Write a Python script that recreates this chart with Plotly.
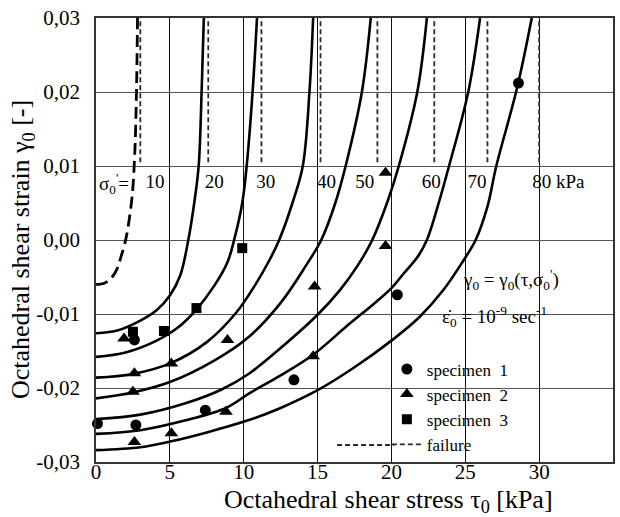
import plotly.graph_objects as go

# ---------------- data ----------------
x_tick_vals = [0, 5, 10, 15, 20, 25, 30, 35]
x_tick_text = ["0", "5", "10", "15", "20", "25", "30", "35"]
y_tick_vals = [-0.03, -0.02, -0.01, 0.0, 0.01, 0.02, 0.03]
y_tick_text = ["-0,03", "-0,02", "-0,01", "0,00", "0,01", "0,02", "0,03"]

# curve for sigma0' = 10 kPa (dashed)
tau_s10 = [0, 0.6, 1.1, 1.45, 1.7, 1.95, 2.15, 2.45, 2.63, 2.74, 2.81]
gam_s10 = [-0.0060, -0.0058, -0.0050, -0.0038, -0.0022, -0.0005, 0.0015, 0.0060, 0.0120, 0.0200, 0.0300]

tau_s20 = [0, 1.5, 3.0, 4.1, 5.0, 5.7, 6.25, 6.65, 6.95, 7.15, 7.3]
gam_s20 = [-0.0126, -0.0122, -0.0109, -0.0095, -0.0075, -0.0048, 0.0, 0.005, 0.010, 0.020, 0.030]

tau_s30 = [0, 2.0, 4.0, 5.5, 6.75, 8.0, 8.9, 9.35, 9.9, 10.2, 10.6, 10.9]
gam_s30 = [-0.0158, -0.0152, -0.0137, -0.0119, -0.0095, -0.0062, -0.0030, 0.0, 0.005, 0.010, 0.020, 0.030]

tau_s40 = [0, 2.5, 5.1, 7.5, 9.5, 10.8, 11.8, 12.4, 13.3, 14.0, 14.45, 14.7]
gam_s40 = [-0.0186, -0.0181, -0.0166, -0.0138, -0.0098, -0.0060, -0.0025, 0.0, 0.005, 0.010, 0.020, 0.030]

tau_s50 = [0, 2.5, 5.0, 8.0, 10.4, 12.5, 14.2, 15.25, 16.2, 16.9, 18.0, 18.6]
gam_s50 = [-0.0214, -0.0206, -0.0192, -0.0163, -0.0130, -0.0085, -0.0035, 0.0, 0.005, 0.010, 0.020, 0.030]

tau_s60 = [0, 3.0, 6.0, 8.5, 10.4, 12.5, 15.0, 16.5, 17.7, 18.7, 19.7, 20.5, 21.75, 22.4]
gam_s60 = [-0.0242, -0.0236, -0.0221, -0.0202, -0.0180, -0.0146, -0.0101, -0.0068, -0.0035, 0.0, 0.005, 0.010, 0.020, 0.030]

tau_s70 = [0, 3.0, 6.0, 8.8, 10.4, 12.5, 14.7, 17.0, 19.0, 20.0, 20.8, 21.8, 22.4, 23.2, 23.9, 25.2, 26.0]
gam_s70 = [-0.0262, -0.0257, -0.0244, -0.0227, -0.0207, -0.0183, -0.0155, -0.0116, -0.0083, -0.0065, -0.0046, -0.0022, 0.0, 0.005, 0.010, 0.020, 0.030]

tau_s80 = [0, 3.0, 5.1, 7.5, 10.4, 12.5, 15.0, 17.5, 20.0, 21.9, 23.5, 24.8, 25.7, 26.5, 27.1, 28.5, 29.5]
gam_s80 = [-0.0284, -0.0280, -0.0272, -0.0260, -0.0243, -0.0227, -0.0203, -0.0172, -0.0136, -0.0104, -0.0068, -0.0030, 0.0, 0.0045, 0.010, 0.0205, 0.030]

# failure stress (vertical dashed lines)
failure_tau = [3.0, 7.6, 11.2, 15.2, 19.05, 22.9, 26.5, 30.0]
failure_gam = [0.0105, 0.03]

# curve labels
sigma_labels = ["10", "20", "30", "40", "50", "60", "70", "80 kPa"]
sigma_label_tau = [4.0, 8.0, 11.5, 15.6, 18.2, 22.7, 25.8, 31.3]
sigma_label_gam = 0.0077

# specimens
spec1_tau = [0.1, 2.6, 2.7, 7.4, 13.4, 20.4, 28.6]
spec1_gam = [-0.0248, -0.0135, -0.0250, -0.0230, -0.0189, -0.0074, 0.0212]
spec2_tau = [1.9, 2.6, 2.5, 2.6, 5.1, 5.1, 8.9, 8.8, 14.8, 14.7, 19.6, 19.6]
spec2_gam = [-0.0133, -0.0180, -0.0205, -0.0273, -0.0167, -0.0261, -0.0135, -0.0232, -0.0063, -0.0157, -0.0008, 0.0091]
spec3_tau = [2.5, 4.6, 6.8, 9.9]
spec3_gam = [-0.0124, -0.0123, -0.0092, -0.0011]

FONT = "Liberation Serif, Times New Roman, serif"
FAIL_LINE = dict(color="#2a2a2a", width=1.8, dash="5px,3px")

fig = go.Figure()

solid_curves = [
    (tau_s20, gam_s20), (tau_s30, gam_s30), (tau_s40, gam_s40), (tau_s50, gam_s50),
    (tau_s60, gam_s60), (tau_s70, gam_s70), (tau_s80, gam_s80),
]

# vertical failure lines (first one carries the legend entry)
for i, t in enumerate(failure_tau):
    fig.add_trace(go.Scatter(x=[t, t], y=failure_gam, mode="lines", name="failure",
                             legendgroup="failure", showlegend=(i == 0), legendrank=4,
                             line=FAIL_LINE, hoverinfo="skip"))

for tx, gy in solid_curves:
    fig.add_trace(go.Scatter(x=tx, y=gy, mode="lines",
                             line=dict(color="black", width=2.6, shape="spline", smoothing=1.0),
                             showlegend=False, hoverinfo="skip"))

fig.add_trace(go.Scatter(x=tau_s10, y=gam_s10, mode="lines",
                         line=dict(color="black", width=2.8, shape="spline", smoothing=1.0,
                                   dash="12px,6px"),
                         showlegend=False, hoverinfo="skip"))

fig.add_trace(go.Scatter(x=sigma_label_tau, y=[sigma_label_gam] * len(sigma_labels),
                         mode="text", text=sigma_labels, textposition="middle center",
                         textfont=dict(family=FONT, size=19, color="black"),
                         showlegend=False, hoverinfo="skip"))

fig.add_trace(go.Scatter(x=spec1_tau, y=spec1_gam, mode="markers", name="specimen\u00a0\u00a01",
                         legendrank=1,
                         marker=dict(symbol="circle", size=11, color="black"), cliponaxis=False))
fig.add_trace(go.Scatter(x=spec2_tau, y=spec2_gam, mode="markers", name="specimen\u00a0\u00a02",
                         legendrank=2,
                         marker=dict(symbol="triangle-up", size=12, color="black"), cliponaxis=False))
fig.add_trace(go.Scatter(x=spec3_tau, y=spec3_gam, mode="markers", name="specimen\u00a0\u00a03",
                         legendrank=3,
                         marker=dict(symbol="square", size=10, color="black"), cliponaxis=False))

annotations = [
    dict(text="σ<sub>0</sub><sup>'</sup>=", x=0.1, y=0.0077, xref="x", yref="y",
         xanchor="left", showarrow=False, font=dict(family=FONT, size=19, color="black")),
    dict(text="γ<sub>0</sub> = γ<sub>0</sub>(τ,σ<sub>0</sub><sup>'</sup>)", x=28.1, y=-0.0053,
         xref="x", yref="y", showarrow=False, font=dict(family=FONT, size=19, color="black")),
    dict(text="ε\u0307<sub>0</sub> = 10<sup>-9</sup> sec<sup>-1</sup>", x=27.0, y=-0.0104,
         xref="x", yref="y", showarrow=False, font=dict(family=FONT, size=19, color="black")),
    dict(text="Octahedral shear stress τ<sub>0</sub> [kPa]", x=0.565, y=-0.087, xref="paper",
         yref="paper", showarrow=False, xanchor="center", yanchor="middle",
         font=dict(family=FONT, size=26, color="black")),
    dict(text="Octahedral shear strain γ<sub>0</sub> [-]", x=-0.143, y=0.4775, xref="paper",
         yref="paper", showarrow=False, textangle=-90, xanchor="center", yanchor="middle",
         font=dict(family=FONT, size=26, color="black")),
]

# longer dash sample to the left of the legend's own "failure" symbol
legend_shapes = [
    dict(type="line", xref="paper", yref="paper", x0=0.4663, x1=0.5762, y0=0.0383, y1=0.0383,
         line=FAIL_LINE),
]

fig.update_layout(
    width=620, height=517,
    margin=dict(l=96, r=5, t=18, b=55),
    paper_bgcolor="white", plot_bgcolor="white",
    font=dict(family=FONT, size=20, color="black"),
    annotations=annotations,
    shapes=legend_shapes,
    showlegend=True,
    legend=dict(x=0.5626, y=0.249, xanchor="left", yanchor="top",
                bgcolor="rgba(0,0,0,0)", font=dict(family=FONT, size=17, color="black"),
                tracegroupgap=0),
)
fig.update_xaxes(range=[0, 35], tickvals=x_tick_vals, ticktext=x_tick_text,
                 showgrid=True, gridcolor="#111111", gridwidth=1,
                 showline=True, linecolor="#333333", linewidth=1.5, mirror=True,
                 zeroline=False, ticks="", tickfont=dict(family=FONT, size=21),
                 ticklabelstandoff=-10)
fig.update_yaxes(range=[-0.03, 0.03], tickvals=y_tick_vals, ticktext=y_tick_text,
                 showgrid=True, gridcolor="#555555", gridwidth=1,
                 showline=True, linecolor="#333333", linewidth=1.5, mirror=True,
                 zeroline=False, ticks="", tickfont=dict(family=FONT, size=21),
                 ticklabelstandoff=10)

fig.write_html("out.html")
